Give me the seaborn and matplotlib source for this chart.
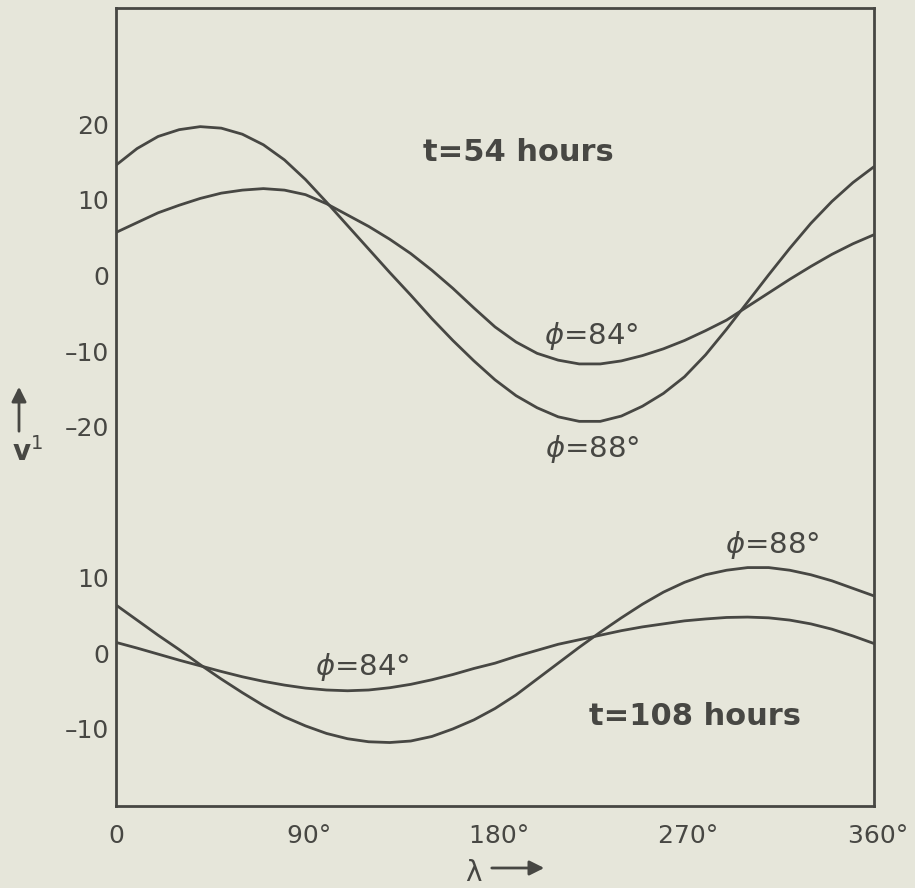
import numpy as np
import matplotlib
matplotlib.use("Agg")
import matplotlib.pyplot as plt
import seaborn as sns

# longitude (degrees)
lam = list(range(0, 361, 10))

# t = 54 hours
v54_phi88 = [14.6, 16.8, 18.4, 19.3, 19.7, 19.5, 18.7, 17.3, 15.3, 12.7, 9.7, 6.6, 3.5,
             0.4, -2.6, -5.7, -8.6, -11.3, -13.8, -15.9, -17.5, -18.7, -19.3, -19.3,
             -18.6, -17.3, -15.6, -13.4, -10.5, -7.1, -3.5, 0.1, 3.6, 6.9, 9.8, 12.3, 14.4]
v54_phi84 = [5.7, 7.0, 8.3, 9.3, 10.2, 10.9, 11.3, 11.5, 11.3, 10.7, 9.5, 8.0, 6.5,
             4.8, 2.9, 0.7, -1.7, -4.3, -6.8, -8.8, -10.3, -11.2, -11.7, -11.7,
             -11.3, -10.6, -9.7, -8.6, -7.3, -5.9, -4.1, -2.3, -0.5, 1.2, 2.8, 4.2, 5.4]

# t = 108 hours
v108_phi88 = [6.4, 4.4, 2.4, 0.5, -1.5, -3.4, -5.2, -6.9, -8.4, -9.6, -10.6, -11.3, -11.7,
              -11.8, -11.6, -11.0, -10.0, -8.8, -7.3, -5.5, -3.4, -1.3, 0.8, 2.8,
              4.7, 6.5, 8.1, 9.4, 10.4, 11.0, 11.35, 11.35, 11.0, 10.4, 9.6, 8.6, 7.6]
v108_phi84 = [1.45, 0.7, -0.1, -0.9, -1.65, -2.4, -3.1, -3.7, -4.2, -4.6, -4.85, -4.95, -4.85,
              -4.55, -4.1, -3.5, -2.8, -2.0, -1.3, -0.4, 0.4, 1.2, 1.8, 2.4,
              3.0, 3.5, 3.9, 4.3, 4.55, 4.75, 4.8, 4.7, 4.4, 3.9, 3.2, 2.3, 1.3]

xticks = [0, 90, 180, 270, 360]
xticklabels = ["0", " 90°", " 180°", " 270°", " 360°"]
upper_ticks = [-20, -10, 0, 10, 20]
lower_ticks = [-10, 0, 10]

OFFSET = 50  # upper panel shifted up on the shared axis

sns.set_style("white")
plt.rcParams["font.family"] = ["DejaVu Sans"]
plt.rcParams["mathtext.fontset"] = "dejavusans"

ink = "#474743"
bg = "#e6e6da"

fig = plt.figure(figsize=(9.15, 8.88), dpi=100, facecolor=bg)
ax = fig.add_axes([116 / 915, 82 / 888, 758 / 915, 798 / 888])
ax.set_facecolor(bg)

for vals, off in [(v54_phi88, OFFSET), (v54_phi84, OFFSET), (v108_phi88, 0), (v108_phi84, 0)]:
    sns.lineplot(x=lam, y=np.array(vals) + off, ax=ax, color=ink, lw=2.0)

ax.set_xlim(0, 360)
ax.set_ylim(-20.2, 85.4)
ax.set_xticks(xticks)
ax.set_xticklabels(xticklabels)
ax.set_yticks(lower_ticks + [t + OFFSET for t in upper_ticks])
ax.set_yticklabels([f"{t}".replace("-", "\u2013") for t in lower_ticks + upper_ticks])

ax.tick_params(direction="in", length=9, width=2, color=ink, labelsize=18,
               labelcolor=ink, top=False, right=False)
ax.tick_params(axis="x", pad=13)
ax.tick_params(axis="y", pad=5)
for s in ax.spines.values():
    s.set_color(ink)
    s.set_linewidth(2)
ax.grid(False)

# annotations
ax.text(191, 16.3 + OFFSET, "t=54 hours", fontsize=22, fontweight="bold", color=ink,
        ha="center", va="center")
ax.text(275, -8.3, "t=108 hours", fontsize=22, fontweight="bold", color=ink,
        ha="center", va="center")
ax.text(225.5, -8.0 + OFFSET, r"$\phi$=84°", fontsize=21, color=ink, ha="center", va="center")
ax.text(226, -23.0 + OFFSET, r"$\phi$=88°", fontsize=21, color=ink, ha="center", va="center")
ax.text(311.5, 14.4, r"$\phi$=88°", fontsize=21, color=ink, ha="center", va="center")
ax.text(117, -1.8, r"$\phi$=84°", fontsize=21, color=ink, ha="center", va="center")

# axis labels with arrows
fig.text(27 / 915, 1 - 452 / 888, r"$\mathbf{v}^{1}$", fontsize=20, color=ink,
         ha="center", va="center")
ax.annotate("", xy=(19, 888 - 384), xytext=(19, 888 - 434), xycoords="figure pixels",
            arrowprops=dict(arrowstyle="-|>", color=ink, lw=2, mutation_scale=22))
fig.text(473 / 915, 1 - 873 / 888, "λ", fontsize=20, color=ink, ha="center", va="center")
ax.annotate("", xy=(547, 888 - 868), xytext=(489, 888 - 868), xycoords="figure pixels",
            arrowprops=dict(arrowstyle="-|>", color=ink, lw=2, mutation_scale=22))

fig.savefig("out.png", dpi=100, facecolor=bg)
